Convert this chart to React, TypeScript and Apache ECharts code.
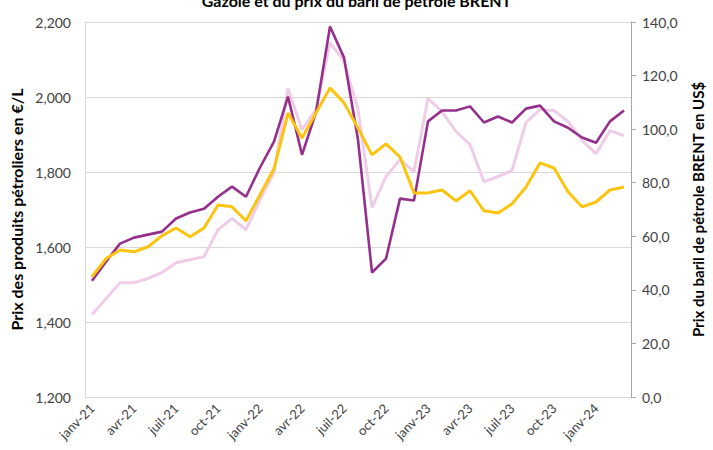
import React, { useEffect, useRef } from "react";
import * as echarts from "echarts";

const months: string[] = [
  "janv-21", "févr-21", "mars-21", "avr-21", "mai-21", "juin-21", "juil-21", "août-21", "sept-21", "oct-21", "nov-21", "déc-21",
  "janv-22", "févr-22", "mars-22", "avr-22", "mai-22", "juin-22", "juil-22", "août-22", "sept-22", "oct-22", "nov-22", "déc-22",
  "janv-23", "févr-23", "mars-23", "avr-23", "mai-23", "juin-23", "juil-23", "août-23", "sept-23", "oct-23", "nov-23", "déc-23",
  "janv-24", "févr-24", "mars-24",
];

// €/L (left axis)
const purpleSeries: number[] = [
  1510, 1561, 1609, 1625, 1633, 1641, 1676, 1692, 1702, 1734, 1761, 1734,
  1812, 1881, 2001, 1846, 1959, 2188, 2105, 1886, 1532, 1569, 1729, 1724,
  1935, 1964, 1964, 1975, 1932, 1948, 1932, 1969, 1977, 1935, 1918, 1892,
  1878, 1935, 1964,
];
const pinkSeries: number[] = [
  1420, 1462, 1505, 1505, 1516, 1532, 1558, 1566, 1574, 1646, 1676, 1646,
  1726, 1798, 2023, 1913, 1967, 2145, 2095, 1967, 1705, 1788, 1833, 1801,
  1996, 1961, 1908, 1873, 1774, 1788, 1804, 1932, 1967, 1964, 1935, 1884,
  1849, 1910, 1897,
];
// Brent (right axis)
const brentSeries: number[] = [
  44.9, 51.6, 54.9, 54.2, 56.1, 60.2, 63.1, 59.8, 63.1, 71.7, 71.0, 65.8,
  75.5, 85.2, 106.0, 96.7, 106.0, 115.4, 109.8, 100.4, 90.4, 94.5, 89.6, 76.2,
  76.2, 77.3, 73.2, 77.0, 69.5, 68.7, 72.1, 78.4, 87.4, 85.5, 76.6, 71.0,
  72.8, 77.3, 78.4,
];

const titleText = "Gazole et du prix du baril de pétrole BRENT";
const leftAxisName = "Prix des produits pétroliers en €/L";
const rightAxisName = "Prix du baril de pétrole BRENT en US$";

const FONT = "Lato, 'Liberation Sans', sans-serif";

export default function App() {
  const ref = useRef<HTMLDivElement>(null);
  useEffect(() => {
    if (!ref.current) return;
    const chart = echarts.init(ref.current, undefined, { renderer: "svg" });
    chart.setOption({
      animation: false,
      backgroundColor: "#ffffff",
      textStyle: { fontFamily: FONT },
      title: {
        text: titleText,
        left: "center",
        top: -13,
        textStyle: { fontSize: 16, fontWeight: "bold", color: "#000000", fontFamily: FONT },
      },
      grid: { left: 85, right: 65, top: 22, bottom: 53 },
      xAxis: {
        type: "category",
        data: months,
        boundaryGap: true,
        axisLine: { show: true, lineStyle: { color: "#d9d9d9", width: 1 } },
        axisTick: { show: false },
        axisLabel: {
          interval: 2,
          rotate: 45,
          margin: 9,
          fontSize: 13,
          color: "#404040",
          fontFamily: FONT,
        },
      },
      yAxis: [
        {
          type: "value",
          min: 1200,
          max: 2200,
          interval: 200,
          position: "left",
          name: leftAxisName,
          nameLocation: "middle",
          nameGap: 60,
          nameTextStyle: { fontSize: 16, fontWeight: "bold", color: "#000000", fontFamily: FONT },
          axisLine: { show: true, lineStyle: { color: "#d9d9d9" } },
          axisTick: { show: false },
          splitLine: { show: true, lineStyle: { color: "#d9d9d9", width: 1 } },
          axisLabel: {
            fontSize: 14,
            color: "#404040",
            margin: 14,
            fontFamily: FONT,
            formatter: (v: number) => v.toLocaleString("en-US"),
          },
        },
        {
          type: "value",
          min: 0,
          max: 140,
          interval: 20,
          position: "right",
          name: rightAxisName,
          nameLocation: "middle",
          nameGap: 59,
          nameTextStyle: { fontSize: 15, fontWeight: "bold", color: "#000000", fontFamily: FONT },
          axisLine: { show: true, lineStyle: { color: "#a6a6a6" } },
          axisTick: { show: true, length: 5, lineStyle: { color: "#a6a6a6" } },
          splitLine: { show: false },
          axisLabel: {
            fontSize: 14,
            color: "#404040",
            margin: 11,
            fontFamily: FONT,
            formatter: (v: number) => v.toFixed(1).replace(".", ","),
          },
        },
      ],
      series: [
        {
          type: "line",
          data: pinkSeries,
          yAxisIndex: 0,
          showSymbol: false,
          lineStyle: { color: "#efcde8", width: 3 },
          z: 1,
        },
        {
          type: "line",
          data: purpleSeries,
          yAxisIndex: 0,
          showSymbol: false,
          lineStyle: { color: "#952f8b", width: 2.6 },
          z: 2,
        },
        {
          type: "line",
          data: brentSeries,
          yAxisIndex: 1,
          showSymbol: false,
          lineStyle: { color: "#fdc40f", width: 3 },
          z: 3,
        },
      ],
    });
    return () => chart.dispose();
  }, []);
  return <div ref={ref} style={{ width: 713, height: 450, position: "fixed", left: 0, top: 0 }} />;
}
